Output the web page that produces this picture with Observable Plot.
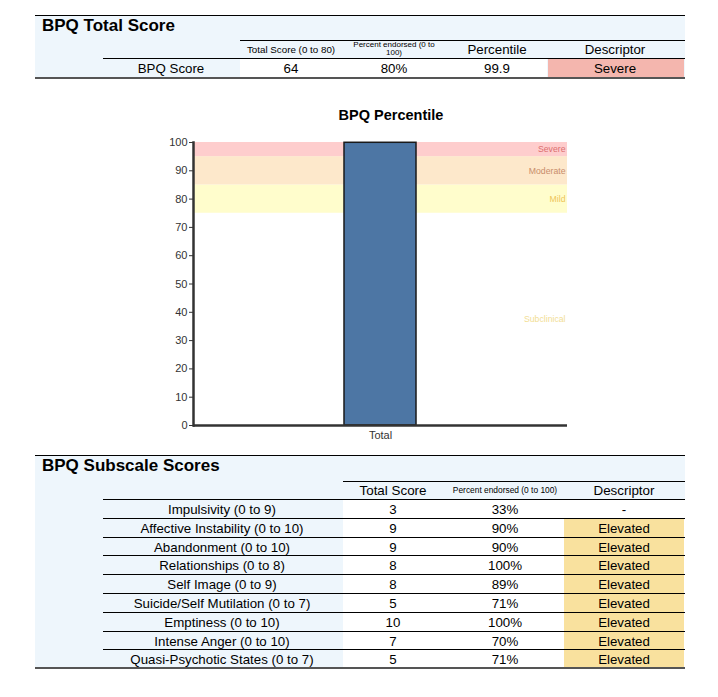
<!DOCTYPE html>
<html>
<head>
<meta charset="utf-8">
<script src="https://cdn.jsdelivr.net/npm/d3@7"></script>
<script src="https://cdn.jsdelivr.net/npm/@observablehq/plot@0.6"></script>
<style>
  body { margin: 0; background: #fff; font-family: "Liberation Sans", Arial, sans-serif; color: #000; }
  #page { position: relative; width: 718px; height: 697px; overflow: hidden; }
  .abs { position: absolute; }
  .ctr { position: absolute; text-align: center; white-space: nowrap; transform: translate(-50%, -50%); }
  .hl { position: absolute; height: 0; border-top: 1px solid #000; }
</style>
</head>
<body>
<div id="page"></div>
<script>
// ---------- data ----------
const totalTitle = "BPQ Total Score";
const totalHeaders = ["Total Score (0 to 80)", "Percent endorsed (0 to 100)", "Percentile", "Descriptor"];
const totalRowLabel = "BPQ Score";
const totalValues = ["64", "80%", "99.9", "Severe"];

const chartTitle = "BPQ Percentile";
const barCategories = ["Total"];
const barValues = [99.9];
const yTicks = [0, 10, 20, 30, 40, 50, 60, 70, 80, 90, 100];
const bandNames = ["Subclinical", "Mild", "Moderate", "Severe"];
const bandLow = [0, 75, 85, 95];
const bandHigh = [75, 85, 95, 100];

const subTitle = "BPQ Subscale Scores";
const subHeaders = ["Total Score", "Percent endorsed (0 to 100)", "Descriptor"];
const subNames = ["Impulsivity (0 to 9)", "Affective Instability (0 to 10)", "Abandonment (0 to 10)",
  "Relationships (0 to 8)", "Self Image (0 to 9)", "Suicide/Self Mutilation (0 to 7)",
  "Emptiness (0 to 10)", "Intense Anger (0 to 10)", "Quasi-Psychotic States (0 to 7)"];
const subTotals = [3, 9, 9, 8, 8, 5, 10, 7, 5];
const subPercents = ["33%", "90%", "90%", "100%", "89%", "71%", "100%", "70%", "71%"];
const subDescriptors = ["-", "Elevated", "Elevated", "Elevated", "Elevated", "Elevated", "Elevated", "Elevated", "Elevated"];

// ---------- helpers ----------
const page = document.getElementById("page");
const LIGHT = "#eef6fc";
function box(l, t, w, h, bg, extra) {
  const d = document.createElement("div");
  d.className = "abs";
  Object.assign(d.style, { left: l + "px", top: t + "px", width: w + "px", height: h + "px", background: bg }, extra || {});
  page.appendChild(d); return d;
}
function hline(l, t, w, color, px) {
  const d = document.createElement("div");
  d.className = "hl";
  Object.assign(d.style, { left: l + "px", top: t + "px", width: w + "px", borderTop: (px || 1) + "px solid " + (color || "#000") });
  page.appendChild(d); return d;
}
function text(str, cx, cy, size, extra) {
  const d = document.createElement("div");
  d.className = "ctr";
  d.textContent = str;
  Object.assign(d.style, { left: cx + "px", top: cy + "px", fontSize: size + "px" }, extra || {});
  page.appendChild(d); return d;
}

// ---------- top table ----------
box(35, 16, 650, 62, LIGHT);
box(240, 58, 307, 20, "#fff");
box(548, 58, 136, 20, "#f4b6ae");
hline(35, 15, 650);
hline(240, 40, 445);
hline(103, 58, 582);
hline(35, 77, 650, "#555", 2);
const t1 = document.createElement("div");
t1.className = "abs"; t1.textContent = totalTitle;
Object.assign(t1.style, { left: "42px", top: "16px", fontSize: "17px", fontWeight: "bold" });
page.appendChild(t1);
const topCols = [291, 394, 497, 615];
text(totalHeaders[0], topCols[0], 49, 9.8);
text(totalHeaders[1], topCols[1], 49, 8, { whiteSpace: "normal", width: "86px", lineHeight: "8px" });
text(totalHeaders[2], topCols[2], 49, 13.3);
text(totalHeaders[3], topCols[3], 49, 13.3);
text(totalRowLabel, 171, 68, 13.3);
totalValues.forEach((v, i) => text(v, topCols[i], 68, 13.3));

// ---------- chart ----------
text(chartTitle, 391, 115, 14.5, { fontWeight: "bold" });
const bands = bandNames.map((n, i) => ({ name: n, lo: bandLow[i], hi: bandHigh[i], mid: (bandLow[i] + bandHigh[i]) / 2 }));
const bars = barCategories.map((c, i) => ({ cat: c, value: barValues[i] }));
const fillMap = { Subclinical: "#ffffff", Mild: "#fffdcc", Moderate: "#fde8cb", Severe: "#fecdcd" };
const labelMap = { Subclinical: "#f2de95", Mild: "#eec65a", Moderate: "#c88d6c", Severe: "#dc6f6f" };

const chart = Plot.plot({
  width: 718,
  height: 325,
  marginLeft: 193,
  marginRight: 151,
  marginTop: 17,
  marginBottom: 25,
  style: { fontFamily: "Liberation Sans, Arial, sans-serif", background: "transparent", overflow: "visible" },
  x: { domain: barCategories, padding: 0.677, label: null },
  y: { domain: [0, 100], label: null },
  marks: [
    Plot.rectY(bands.filter(b => b.name !== "Subclinical"), { y1: "lo", y2: "hi", fill: d => fillMap[d.name], inset: 0 }),
    Plot.text(bands, { y: "mid", text: "name", frameAnchor: "right", textAnchor: "end", dx: -2, fontSize: 8.7, fill: d => labelMap[d.name] }),
    Plot.barY(bars, { x: "cat", y: "value", fill: "#4d76a4", stroke: "#1a1a1a", strokeWidth: 1.5 }),
    Plot.axisY({ ticks: yTicks, tickSize: 4, tickPadding: 2, fontSize: 11, color: "#333", stroke: "#333", label: null }),
    Plot.axisX({ tickSize: 0, tickPadding: 6, fontSize: 11, color: "#333", label: null }),
    Plot.frame({ anchor: "left", stroke: "#333", strokeWidth: 2.5 }),
    Plot.ruleY([0], { stroke: "#333", strokeWidth: 2.5 })
  ]
});
chart.style.position = "absolute";
chart.style.left = "0px";
chart.style.top = "125px";
page.appendChild(chart);

// ---------- subscale table ----------
const rowTop = 499, rowH = 18.8;
const nRows = subNames.length;
const bottomY = rowTop + nRows * rowH;
box(35, 456, 650, 43, LIGHT);
box(35, 499, 308, bottomY - 499, LIGHT);
box(343, 499, 221, bottomY - 499, "#fff");
box(564, 499, 121, bottomY - 499, "#fff");
hline(35, 455, 650);
hline(343, 481, 342);
const st = document.createElement("div");
st.className = "abs"; st.textContent = subTitle;
Object.assign(st.style, { left: "42px", top: "456px", fontSize: "17px", fontWeight: "bold" });
page.appendChild(st);
const subCols = [393, 505, 624];
text(subHeaders[0], subCols[0], 490, 13.4);
text(subHeaders[1], subCols[1], 490, 8.4);
text(subHeaders[2], subCols[2], 490, 13.4);
subNames.forEach((name, i) => {
  const y = rowTop + i * rowH;
  if (subDescriptors[i] === "Elevated") box(564, y + 1, 120, rowH - 1, "#f9e19e");
  hline(103, y, 582);
  const cy = y + rowH / 2 + 0.5;
  text(name, 222, cy, 13.3);
  text(String(subTotals[i]), subCols[0], cy, 13.3);
  text(subPercents[i], subCols[1], cy, 13.3);
  text(subDescriptors[i], subCols[2], cy, 13.3);
});
hline(35, bottomY - 1, 650, "#555", 2);
</script>
</body>
</html>
